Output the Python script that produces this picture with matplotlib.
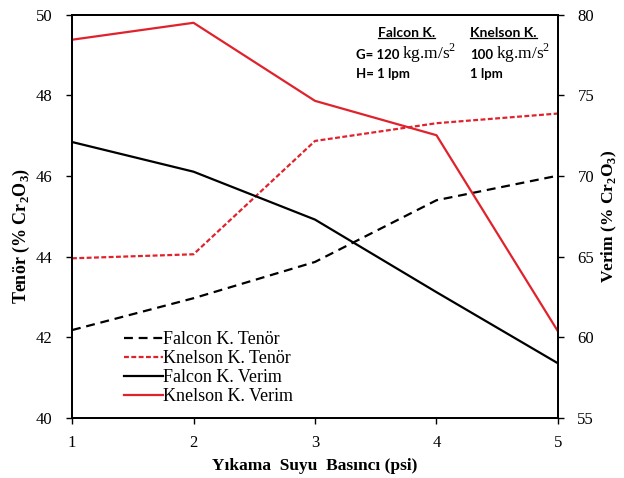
import matplotlib
matplotlib.use('Agg')
import matplotlib.pyplot as plt
from matplotlib.lines import Line2D
from matplotlib.transforms import blended_transform_factory

# Pressure values (psi)
pressure = [1, 2, 3, 4, 5]

# Grade (% Cr2O3), left axis
falcon_tenor = [42.18, 42.97, 43.87, 45.40, 46.01]
knelson_tenor = [43.96, 44.06, 46.87, 47.31, 47.55]

# Recovery (% Cr2O3), right axis
falcon_verim = [72.11, 70.27, 67.30, 62.80, 58.39]
knelson_verim = [78.45, 79.50, 74.66, 72.53, 60.37]

RED = '#e0222c'
plt.rcParams['font.family'] = ['Liberation Serif', 'DejaVu Serif']
plt.rcParams['mathtext.fontset'] = 'custom'
plt.rcParams['mathtext.rm'] = 'Liberation Serif'
plt.rcParams['mathtext.bf'] = 'Liberation Serif:bold'

fig = plt.figure(figsize=(6.24, 4.78), dpi=100)
ax = fig.add_axes([0.1154, 0.1255, 0.7788, 0.8437])
ax2 = ax.twinx()

l1, = ax.plot(pressure, falcon_tenor, color='black', lw=1.6, ls=(0, (4, 2.6)),
              label='Falcon K. Tenör')
l2, = ax.plot(pressure, knelson_tenor, color=RED, lw=1.6, ls=(0, (2.2, 1.1)),
              label='Knelson K. Tenör')
l3, = ax2.plot(pressure, falcon_verim, color='black', lw=1.6, label='Falcon K. Verim')
l4, = ax2.plot(pressure, knelson_verim, color=RED, lw=1.6, label='Knelson K. Verim')

ax.set_xlim(1, 5)
ax.set_ylim(40, 50)
ax2.set_ylim(55, 80)
ax.set_xticks(pressure)
ax.set_yticks(range(40, 51, 2))
ax2.set_yticks(range(55, 81, 5))
for a in (ax, ax2):
    a.tick_params(labelsize=12, direction='out', length=4, width=1)
    for s in a.spines.values():
        s.set_linewidth(1.3)
ax.tick_params(axis='x', pad=8)
ax.tick_params(axis='y', pad=10)
ax2.tick_params(axis='y', pad=10)

ax.set_xlabel('Yıkama  Suyu  Basıncı (psi)', fontsize=12.5, fontweight='bold')
ax.set_ylabel('Tenör (% Cr$_\\mathbf{2}$O$_\\mathbf{3}$)', fontsize=13, fontweight='bold')
ax2.set_ylabel('Verim (% Cr$_\\mathbf{2}$O$_\\mathbf{3}$)', fontsize=12.5, fontweight='bold',
               rotation=90)
ax.xaxis.set_label_coords(0.5, -0.1)
ax.yaxis.set_label_coords(-0.082, 0.451)
ax2.yaxis.set_label_coords(1.086, 0.5)

ax.legend(handles=[l1, l2, l3, l4], loc='lower left', bbox_to_anchor=(0.08, 0.0),
          frameon=False, fontsize=13, handlelength=2.2, handletextpad=0.0,
          labelspacing=0.12, borderaxespad=0.3)

# Device parameters text
sans = ['Lato', 'DejaVu Sans']
t1 = ax.text(0.63, 0.945, 'Falcon K.', transform=ax.transAxes, family=sans,
             fontsize=10, fontweight='bold', va='baseline')
t2 = ax.text(0.819, 0.945, 'Knelson K.', transform=ax.transAxes, family=sans,
             fontsize=10, fontweight='bold', va='baseline')
g = ax.text(0.584, 0.89, 'G= 120', transform=ax.transAxes, family=sans, fontsize=9.5,
            fontweight='bold', va='baseline')
k = ax.text(0.819, 0.89, '100', transform=ax.transAxes, family=sans, fontsize=9.5,
            fontweight='bold', va='baseline')
ax.text(0.584, 0.843, 'H= 1 lpm', transform=ax.transAxes, family=sans, fontsize=9.5,
        fontweight='bold', va='baseline')
ax.text(0.819, 0.843, '1 lpm', transform=ax.transAxes, family=sans, fontsize=9.5,
        fontweight='bold', va='baseline')

fig.canvas.draw()
r = fig.canvas.get_renderer()
inv = fig.transFigure.inverted()
mixed = blended_transform_factory(fig.transFigure, ax.transAxes)
# unit text right after the numbers
for t in (g, k):
    bb = t.get_window_extent(r)
    x = inv.transform((bb.x1 + 3, 0))[0]
    ax.text(x, t.get_position()[1], 'kg.m/s$^2$', transform=mixed,
            family='Liberation Serif', fontsize=12.5, va='baseline')
# underline the headers
for t in (t1, t2):
    bb = t.get_window_extent(r)
    (x0, y0), (x1, _) = inv.transform([(bb.x0, bb.y0), (bb.x1, bb.y0)])
    fig.add_artist(Line2D([x0, x1], [y0 + 0.001, y0 + 0.001], color='black', lw=0.9,
                          transform=fig.transFigure))

fig.savefig('out.png', dpi=100)
